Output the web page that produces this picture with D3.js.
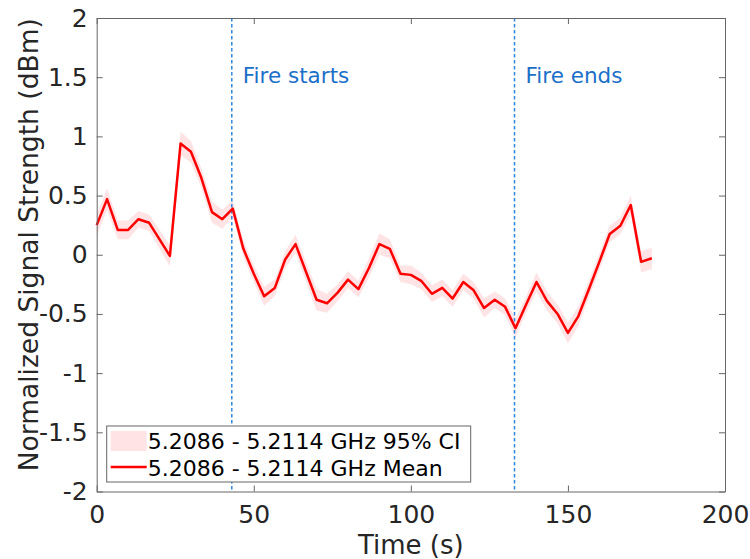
<!DOCTYPE html>
<html>
<head>
<meta charset="utf-8">
<script src="https://cdn.jsdelivr.net/npm/d3@7"></script>
<style>
  body { margin: 0; background: #fff; }
  text { font-family: "DejaVu Sans", sans-serif; }
</style>
</head>
<body>
<div id="chart"></div>
<script>
const times = [0, 3.3, 6.7, 10, 13.3, 16.7, 20, 23.3, 26.7, 30, 33.3, 36.7, 40, 43.3,
  46.7, 50, 53.3, 56.7, 60, 63.3, 66.7, 70, 73.3, 76.7, 80, 83.3, 86.7, 90, 93.3,
  96.7, 100, 103.3, 106.7, 110, 113.3, 116.7, 120, 123.3, 126.7, 130, 133.3, 136.7,
  140, 143.3, 146.7, 150, 153.3, 156.7, 160, 163.3, 166.7, 170, 173.3, 176.7];
const meanVals = [0.25, 0.47, 0.21, 0.21, 0.30, 0.27, 0.13, -0.01, 0.94, 0.87, 0.65,
  0.36, 0.30, 0.39, 0.05, -0.16, -0.35, -0.28, -0.04, 0.09, -0.15, -0.38, -0.41,
  -0.32, -0.21, -0.29, -0.11, 0.09, 0.05, -0.16, -0.17, -0.22, -0.33, -0.28, -0.37,
  -0.23, -0.30, -0.45, -0.38, -0.44, -0.62, -0.42, -0.23, -0.39, -0.50, -0.66,
  -0.52, -0.29, -0.06, 0.175, 0.245, 0.42, -0.06, -0.03];
const ciHalf = [0.09, 0.09, 0.08, 0.08, 0.07, 0.07, 0.08, 0.09, 0.1, 0.09, 0.08,
  0.09, 0.08, 0.07, 0.07, 0.07, 0.08, 0.07, 0.07, 0.08, 0.08, 0.09, 0.08, 0.07,
  0.07, 0.07, 0.08, 0.09, 0.08, 0.07, 0.08, 0.07, 0.07, 0.07, 0.07, 0.07, 0.07,
  0.08, 0.07, 0.07, 0.08, 0.07, 0.08, 0.08, 0.08, 0.09, 0.08, 0.07, 0.07, 0.07,
  0.07, 0.08, 0.09, 0.09];
const events = [{ t: 43, label: "Fire starts" }, { t: 133, label: "Fire ends" }];
const xTicks = [0, 50, 100, 150, 200];
const yTicks = [-2, -1.5, -1, -0.5, 0, 0.5, 1, 1.5, 2];
const legendLabels = ["5.2086 - 5.2114 GHz 95% CI", "5.2086 - 5.2114 GHz Mean"];

const data = times.map((t, i) => ({ t: t, v: meanVals[i], ci: ciHalf[i] }));

const margin = { top: 18, right: 25, bottom: 67.5, left: 96.7 },
  width = 750 - margin.left - margin.right,
  height = 559 - margin.top - margin.bottom;

const x = d3.scaleLinear().domain([0, 200]).range([0, width]),
  y = d3.scaleLinear().domain([-2, 2]).range([height, 0]);

const svg = d3
  .select("#chart")
  .append("svg")
  .attr("width", 750)
  .attr("height", 559)
  .append("g")
  .attr("transform", "translate(" + margin.left + "," + margin.top + ")");

// confidence band
const area = d3
  .area()
  .x((d) => x(d.t))
  .y0((d) => y(d.v - d.ci))
  .y1((d) => y(d.v + d.ci));

svg.append("path").datum(data).attr("fill", "#ffe3e5").attr("d", area);

// event markers
events.forEach((e) => {
  svg
    .append("line")
    .attr("x1", x(e.t))
    .attr("x2", x(e.t))
    .attr("y1", 0)
    .attr("y2", height)
    .attr("stroke", "#2f86dc")
    .attr("stroke-width", 1.5)
    .attr("stroke-dasharray", "3.5,2.5");
  svg
    .append("text")
    .attr("x", x(e.t) + 11)
    .attr("y", 65)
    .attr("fill", "#1b6fc8")
    .attr("font-size", 21.5)
    .text(e.label);
});

// mean line
const line = d3
  .line()
  .x((d) => x(d.t))
  .y((d) => y(d.v));

svg
  .append("path")
  .datum(data)
  .attr("fill", "none")
  .attr("stroke", "#ff0000")
  .attr("stroke-width", 2.5)
  .attr("stroke-linejoin", "round")
  .attr("d", line);

// axes (matlab style: inward ticks, box)
const tickLen = 6;
const axColor = "#666";
const fmt = (d) => String(d);

const xb = svg
  .append("g")
  .attr("transform", "translate(0," + height + ")")
  .call(d3.axisBottom(x).tickValues(xTicks).tickFormat(fmt).tickSizeInner(-tickLen).tickSizeOuter(0).tickPadding(14));
const xt = svg.append("g").call(d3.axisTop(x).tickValues(xTicks).tickSizeInner(-tickLen).tickSizeOuter(0).tickFormat(""));
const yl = svg.append("g").call(d3.axisLeft(y).tickValues(yTicks).tickFormat(fmt).tickSizeInner(-tickLen).tickSizeOuter(0).tickPadding(9));
const yr = svg
  .append("g")
  .attr("transform", "translate(" + width + ",0)")
  .call(d3.axisRight(y).tickValues(yTicks).tickSizeInner(-tickLen).tickSizeOuter(0).tickFormat(""));

[xb, xt, yl, yr].forEach((g) => {
  g.select(".domain").attr("stroke", axColor);
  g.selectAll(".tick line").attr("stroke", axColor);
  g.selectAll(".tick text").attr("fill", "#262626").attr("font-size", 25).attr("font-family", "DejaVu Sans");
});
xb.selectAll(".tick text").attr("dy", "0.71em");

svg
  .append("text")
  .attr("x", width / 2)
  .attr("y", height + 62)
  .attr("text-anchor", "middle")
  .attr("fill", "#262626")
  .attr("font-size", 26)
  .text("Time (s)");

svg
  .append("text")
  .attr("transform", "translate(" + (-59) + "," + (height / 2 - 10) + ") rotate(-90)")
  .attr("text-anchor", "middle")
  .attr("fill", "#262626")
  .attr("font-size", 26.5)
  .text("Normalized Signal Strength (dBm)");

// legend
const lg = svg.append("g").attr("transform", "translate(" + (106.7 - margin.left) + "," + (426 - margin.top) + ")");
lg.append("rect")
  .attr("width", 364)
  .attr("height", 56)
  .attr("fill", "#fff")
  .attr("stroke", "#666")
  .attr("stroke-width", 1);
lg.append("rect").attr("x", 4).attr("y", 5).attr("width", 36).attr("height", 20).attr("fill", "#ffe3e5");
lg.append("line")
  .attr("x1", 4)
  .attr("x2", 40)
  .attr("y1", 41)
  .attr("y2", 41)
  .attr("stroke", "#ff0000")
  .attr("stroke-width", 2.5);
legendLabels.forEach((s, i) => {
  lg.append("text")
    .attr("x", 41)
    .attr("y", 15 + i * 27)
    .attr("dy", "0.36em")
    .attr("fill", "#000")
    .attr("font-size", 22)
    .text(s);
});
</script>
</body>
</html>
